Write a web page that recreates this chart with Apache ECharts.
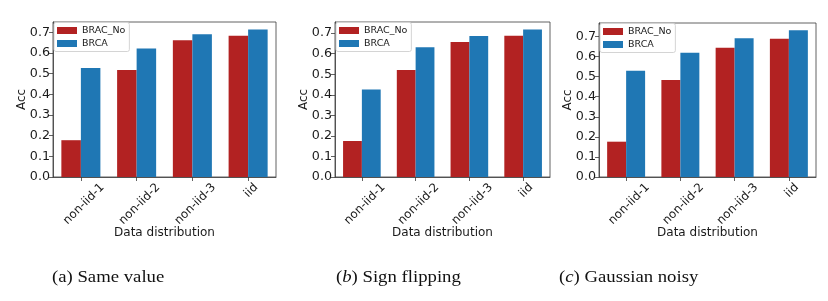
<!DOCTYPE html>
<html>
<head>
<meta charset="utf-8">
<script src="https://cdn.jsdelivr.net/npm/echarts@6/dist/echarts.min.js"></script>
<style>
html,body{margin:0;padding:0;background:#fff;}
#chart{width:828px;height:301px;}
</style>
</head>
<body>
<div id="chart"></div>
<script>
// ---- data ----
const categories = ['non-iid-1', 'non-iid-2', 'non-iid-3', 'iid'];
const seriesNames = ['BRAC_No', 'BRCA'];
const yTicks = [0, 0.1, 0.2, 0.3, 0.4, 0.5, 0.6, 0.7];
const sameValueBRACNo = [0.178, 0.517, 0.662, 0.683];
const sameValueBRCA   = [0.527, 0.622, 0.691, 0.714];
const signFlipBRACNo  = [0.175, 0.520, 0.657, 0.687];
const signFlipBRCA    = [0.425, 0.631, 0.686, 0.718];
const gaussBRACNo     = [0.176, 0.483, 0.644, 0.689];
const gaussBRCA       = [0.529, 0.619, 0.691, 0.731];
const captionLetters = ['a', 'b', 'c'];
const captionTexts = ['Same value', 'Sign flipping', 'Gaussian noisy'];
const xAxisTitle = 'Data distribution';
const yAxisTitle = 'Acc';

// ---- layout / style ----
const panels = [
  {no: sameValueBRACNo, brca: sameValueBRCA, left: 53, right: 552, top: 22, bottom: 124, capX: 52, italic: false},
  {no: signFlipBRACNo, brca: signFlipBRCA, left: 335, right: 278, top: 22, bottom: 124, capX: 336, italic: true},
  {no: gaussBRACNo, brca: gaussBRCA, left: 599, right: 12, top: 23, bottom: 124, capX: 559, italic: true}
];
const RED = '#b22222', BLUE = '#1f77b4', AX = '#3a3a3a', TXT = '#1a1a1a';
const FONT = 'DejaVu Sans';
const XTICK_FS = 11.8;
const YTICK_FS = 12.7;

// measure label widths to emulate matplotlib's centered rotated labels
const cv = document.createElement('canvas').getContext('2d');
cv.font = XTICK_FS + 'px "' + FONT + '"';
const rich = {};
const shift = 3 * Math.SQRT2;
categories.forEach((c, i) => {
  const L = cv.measureText(c).width;
  const h = 13;
  const p = (L + h) / 2;
  rich['t' + i] = {fontSize: XTICK_FS, fontFamily: FONT, color: TXT, padding: [p + shift, Math.max(0, p - shift), 0, 0]};
});

const chart = echarts.init(document.getElementById('chart'), null, {renderer: 'canvas'});

const grid = [], xAxis = [], yAxis = [], series = [], legend = [], graphic = [];
panels.forEach((p, i) => {
  grid.push({left: p.left, right: p.right, top: p.top, bottom: p.bottom, show: true,
    borderColor: AX, borderWidth: 0.8, containLabel: false, outerBoundsMode: 'none'});
  xAxis.push({
    type: 'category', gridIndex: i, data: categories, boundaryGap: true,
    axisLine: {show: true, lineStyle: {color: AX, width: 0.8}},
    axisTick: {show: true, alignWithLabel: true, length: 4, lineStyle: {color: AX, width: 0.8}},
    axisLabel: {interval: 0, rotate: 45, align: 'center', verticalAlign: 'middle', margin: 4,
      fontSize: XTICK_FS, fontFamily: FONT, color: TXT, rich: rich,
      formatter: (v, idx) => '{t' + idx + '|' + v + '}'},
    name: xAxisTitle, nameLocation: 'middle', nameGap: 50, nameMoveOverlap: false,
    nameTextStyle: {fontSize: 12, fontFamily: FONT, color: TXT},
    splitLine: {show: false}
  });
  const ymax = Math.max(...p.no, ...p.brca) * 1.05;
  yAxis.push({
    type: 'value', gridIndex: i, min: 0, max: ymax,
    axisLine: {show: true, lineStyle: {color: AX, width: 0.8}},
    axisTick: {show: true, length: 4, customValues: yTicks, lineStyle: {color: AX, width: 0.8}},
    axisLabel: {customValues: yTicks, margin: 3, fontSize: YTICK_FS, fontFamily: FONT, color: TXT,
      formatter: v => v.toFixed(1)},
    splitLine: {show: false},
    name: yAxisTitle, nameLocation: 'middle', nameGap: 25, nameMoveOverlap: false,
    nameTextStyle: {fontSize: 12, fontFamily: FONT, color: TXT}
  });
  series.push({name: seriesNames[0], type: 'bar', xAxisIndex: i, yAxisIndex: i, data: p.no,
    barWidth: '35%', barGap: '0%', itemStyle: {color: RED}});
  series.push({name: seriesNames[1], type: 'bar', xAxisIndex: i, yAxisIndex: i, data: p.brca,
    barWidth: '35%', barGap: '0%', itemStyle: {color: BLUE}});
  legend.push({
    orient: 'vertical', left: p.left + 1, top: p.top + 0.5, data: seriesNames, icon: 'rect',
    itemWidth: 20, itemHeight: 7, itemGap: 3, selectedMode: false,
    textStyle: {fontSize: 9.5, fontFamily: FONT, color: TXT, lineHeight: 10},
    borderColor: '#d4d4d4', borderWidth: 1, borderRadius: 2, padding: [3, 4, 3, 3],
    backgroundColor: 'rgba(255,255,255,0.85)'
  });
  graphic.push({
    type: 'text', left: p.capX, top: 270, scaleX: 1.17,
    style: {
      text: '({l|' + captionLetters[i] + '}) ' + captionTexts[i],
      font: '16px "Liberation Serif"', fill: '#111',
      rich: {l: {fontStyle: p.italic ? 'italic' : 'normal', fontSize: 16, fontFamily: 'Liberation Serif', fill: '#111'}}
    }
  });
});

chart.setOption({
  animation: false,
  backgroundColor: '#fff',
  grid, xAxis, yAxis, series, legend, graphic
});
</script>
</body>
</html>
